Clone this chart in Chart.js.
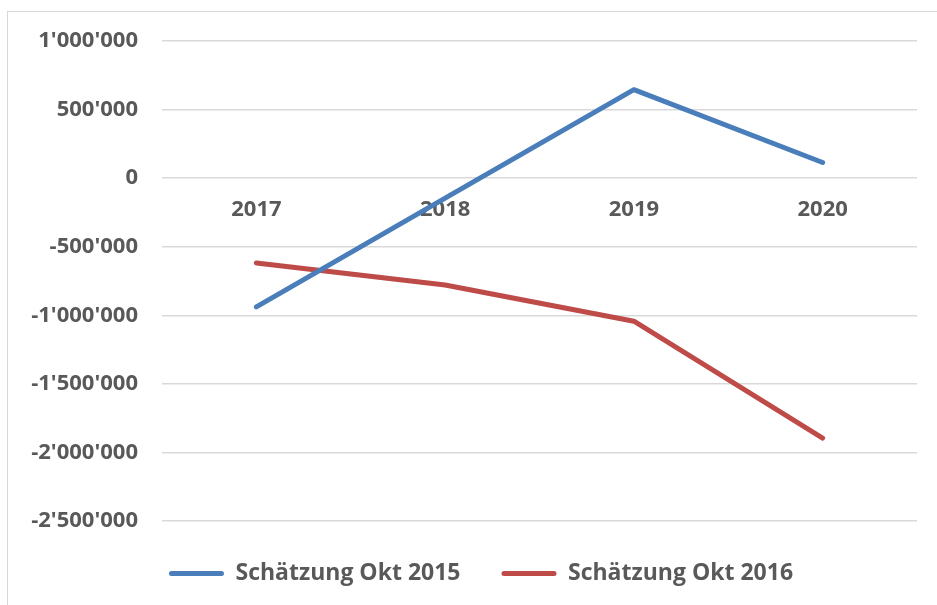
<!DOCTYPE html>
<html><head><meta charset="utf-8">
<script src="https://cdn.jsdelivr.net/npm/chart.js@4/dist/chart.umd.min.js"></script>
<style>
html,body{margin:0;padding:0;background:#fff;overflow:hidden}
#rahmen{position:absolute;left:7px;top:11px;width:1000px;height:700px;border:1.5px solid #d9d9d9}
#wrap{position:absolute;left:0;top:0;width:937px;height:605px}
</style></head>
<body>
<div id="rahmen"></div>
<div id="wrap"><canvas id="ch" width="937" height="605"></canvas></div>
<script>
const jahre=["2017","2018","2019","2020"];
const okt2015=[-939000,-146000,645000,114000];
const okt2016=[-618000,-779000,-1043000,-1895000];
const BLAU="#4A7EBB",ROT="#BE4B48",TXT="#595959",GRID="#d9d9d9";
const FONT="'Open Sans','Noto Sans',sans-serif";
const tsd=v=>{const s=Math.abs(v).toString().replace(/\B(?=(\d{3})+(?!\d))/g,"'");return (v<0?"-":"")+s;};

// Legende etwas nach rechts schieben (wie im Original)
const legShift={id:"legShift",afterLayout(c){if(c.legend){c.legend.left+=10;c.legend.right+=10;}}};

new Chart(document.getElementById("ch"),{
  type:"line",
  data:{labels:jahre,datasets:[
    {label:"Schätzung Okt 2015",data:okt2015,borderColor:BLAU,backgroundColor:BLAU,borderWidth:5,pointRadius:0,tension:0,borderCapStyle:"round",borderJoinStyle:"round"},
    {label:"Schätzung Okt 2016",data:okt2016,borderColor:ROT,backgroundColor:ROT,borderWidth:5,pointRadius:0,tension:0,borderCapStyle:"round",borderJoinStyle:"round"}
  ]},
  plugins:[legShift],
  options:{
    responsive:false,animation:false,
    devicePixelRatio:1,
    layout:{padding:{left:25,top:41,right:20,bottom:10}},
    plugins:{
      tooltip:{enabled:false},
      legend:{position:"bottom",
        labels:{color:TXT,font:{family:FONT,size:23,weight:"bold"},boxWidth:55,boxHeight:5,padding:41,useBorderRadius:true,borderRadius:2.5,
          generateLabels:c=>c.data.datasets.map((d,i)=>({text:d.label,fillStyle:d.borderColor,strokeStyle:d.borderColor,lineWidth:0,fontColor:TXT,datasetIndex:i,borderRadius:2.5}))}}
    },
    scales:{
      x:{position:{y:0},offset:true,
        grid:{display:false,drawTicks:false},border:{display:false},
        ticks:{color:TXT,padding:18,font:{family:FONT,size:22,weight:"bold"},maxRotation:0}},
      y:{min:-2500000,max:1000000,
        afterFit:s=>{s.width=137;},
        grid:{color:GRID,lineWidth:1.5,drawTicks:false},border:{display:false},
        ticks:{stepSize:500000,color:TXT,padding:24,font:{family:FONT,size:22,weight:"bold"},callback:v=>tsd(v)}}
    }
  }
});
</script>
</body></html>
